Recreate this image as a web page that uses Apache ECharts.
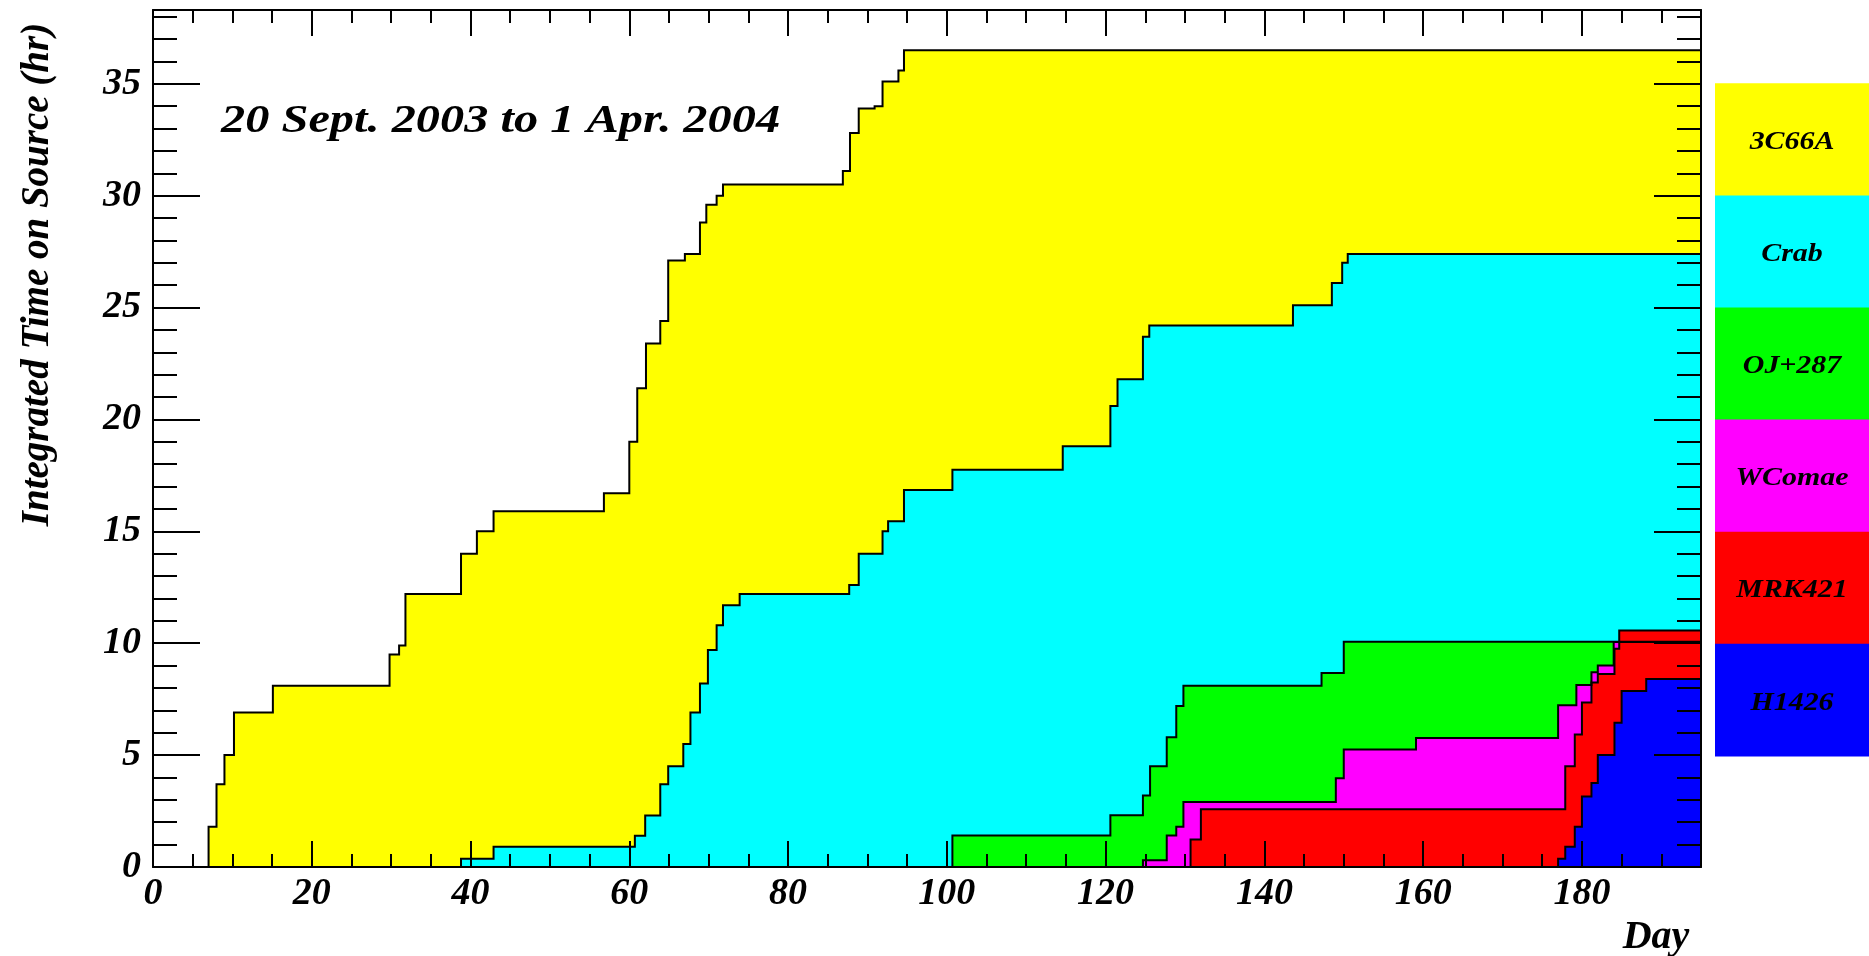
<!DOCTYPE html>
<html>
<head>
<meta charset="utf-8">
<script src="https://cdn.jsdelivr.net/npm/echarts@6/dist/echarts.min.js"></script>
<style>
html,body{margin:0;padding:0;background:#ffffff;}
#chart{width:1869px;height:956px;}
</style>
</head>
<body>
<div id="chart"></div>
<script>
// ---------------- data ----------------
const sourceNames = ['3C66A', 'Crab', 'OJ+287', 'WComae', 'MRK421', 'H1426'];
const sourceColors = ['#ffff00', '#00ffff', '#00ff00', '#ff00ff', '#ff0000', '#0000ff'];

// [day, integrated hours] — each curve changes value at the given day
const curve3C66A = [[0,0],[7,1.8],[8,3.7],[9,5.0],[10.2,6.9],[15.1,8.1],[29.8,9.5],[31,9.9],[31.8,12.2],
  [38.8,14.0],[40.8,15.0],[42.9,15.9],[56.8,16.7],[60,19.0],[61,21.4],[62.1,23.4],[63.9,24.4],[64.9,27.1],
  [67,27.4],[68.9,28.8],[69.7,29.6],[71,30.0],[71.8,30.5],[86.9,31.1],[87.8,32.8],[88.9,33.9],[90.9,34.0],
  [91.9,35.1],[93.9,35.6],[94.6,36.5],[195,36.5]];
const curveCrab = [[0,0],[38.8,0.37],[42.9,0.9],[60.7,1.4],[62,2.3],[63.9,3.7],[64.9,4.5],[66.8,5.5],[67.7,6.9],
  [68.9,8.2],[69.9,9.7],[71,10.8],[71.8,11.7],[73.9,12.2],[87.7,12.6],[88.9,14.0],[91.9,15.0],[92.6,15.45],
  [94.6,16.85],[100.7,17.75],[114.6,18.8],[120.6,20.6],[121.5,21.8],[124.7,23.7],[125.5,24.2],[143.6,25.1],
  [148.5,26.1],[149.8,27.0],[150.5,27.4],[195,27.4]];
const curveOJ287 = [[0,0],[100.7,1.41],[120.6,2.31],[124.7,3.2],[125.6,4.5],[127.7,5.8],[128.9,7.2],[129.8,8.1],
  [147.2,8.67],[150,10.07],[195,10.07]];
const curveWComae = [[0,0],[124.7,0.3],[127.7,1.41],[128.9,1.8],[129.8,2.9],[149,3.97],[150,5.25],[159.1,5.77],
  [177,7.23],[179.3,8.13],[181.2,8.7],[182,9.0],[184,10.05],[195,10.05]];
const curveMRK421 = [[0,0],[130.7,1.23],[132,2.58],[177.9,4.5],[179.1,5.92],[180,7.35],[181.2,8.25],[182,8.62],
  [184.1,9.75],[184.7,10.57],[195,10.57]];
const curveH1426 = [[0,0],[177,0.37],[177.9,0.9],[179.1,1.8],[180,3.15],[181.2,3.75],[182,5.0],[184.1,6.45],
  [185,7.87],[188.1,8.4],[195,8.4]];

const curves = [curve3C66A, curveCrab, curveOJ287, curveWComae, curveMRK421, curveH1426];

const xMin = 0, xMax = 195, xMajor = 20, xMinor = 5;
const yMin = 0, yMax = 38.3, yMajor = 5, yMinor = 1;
const titleText = '20 Sept. 2003 to 1 Apr. 2004';
const yTitle = 'Integrated Time on Source (hr)';
const xTitle = 'Day';

// ---------------- layout / style ----------------
const FONT = "'Liberation Serif', 'DejaVu Serif', serif";
const gridL = 153, gridR = 168, gridT = 10, gridB = 89;

function xAxisCfg(pos, interval, tickLen, main) {
  return {
    type: 'value', position: pos, min: xMin, max: xMax, interval: interval, z: 10,
    axisLine: { show: main, onZero: false, lineStyle: { color: '#000', width: 2 } },
    axisTick: { show: true, inside: true, length: tickLen, lineStyle: { color: '#000', width: 2 } },
    axisLabel: {
      show: main && pos === 'bottom', margin: 8, color: '#000',
      fontFamily: FONT, fontSize: 38, fontWeight: 'bold', fontStyle: 'italic',
      formatter: v => (Math.abs(v % xMajor) < 1e-6 ? String(v) : '')
    },
    splitLine: { show: false },
    name: (main && pos === 'bottom') ? xTitle : '',
    nameLocation: 'middle', nameGap: 40,
    nameTextStyle: { color: '#000', fontFamily: FONT, fontSize: 40, fontWeight: 'bold', fontStyle: 'italic',
      padding: [-10, 0, 0, 1458] }
  };
}
function yAxisCfg(pos, interval, tickLen, main) {
  return {
    type: 'value', position: pos, min: yMin, max: yMax, interval: interval, z: 10,
    axisLine: { show: main, onZero: false, lineStyle: { color: '#000', width: 2 } },
    axisTick: { show: true, inside: true, length: tickLen, lineStyle: { color: '#000', width: 2 } },
    axisLabel: {
      show: main && pos === 'left', margin: 12, color: '#000',
      fontFamily: FONT, fontSize: 38, fontWeight: 'bold', fontStyle: 'italic',
      formatter: v => (Math.abs(v % yMajor) < 1e-6 ? String(v) : '')
    },
    splitLine: { show: false },
    name: (main && pos === 'left') ? yTitle : '',
    nameLocation: 'middle', nameRotate: 90, nameGap: 96,
    nameTextStyle: { color: '#000', fontFamily: FONT, fontSize: 39, fontWeight: 'bold', fontStyle: 'italic',
      padding: [0, 0, 0, 328] }
  };
}

const series = curves.map((c, i) => ({
  type: 'line', name: sourceNames[i], data: c, step: 'end',
  xAxisIndex: 0, yAxisIndex: 0,
  symbol: 'none', showSymbol: false, animation: false, z: 2,
  lineStyle: { color: '#000', width: 2, join: 'miter' },
  itemStyle: { color: sourceColors[i] },
  areaStyle: { color: sourceColors[i], opacity: 1 }
}));

// legend boxes built from names/colors
const legTop = 83.3, legH = 112.1, legLeft = 1715, legW = 154;
const graphics = [];
sourceNames.forEach((n, i) => {
  graphics.push({ type: 'rect', left: legLeft, top: legTop + i * legH, z: 50,
    shape: { width: legW, height: legH + 0.5 }, style: { fill: sourceColors[i] } });
  graphics.push({ type: 'text', x: legLeft + legW / 2, y: legTop + i * legH + legH / 2 + 3, z: 51,
    scaleX: 1.15,
    style: { text: n, fill: '#000', font: "italic bold 26px " + FONT, align: 'center', verticalAlign: 'middle' } });
});
graphics.push({ type: 'text', x: 221, y: 121, z: 51, scaleX: 1.18,
  style: { text: titleText, fill: '#000', font: "italic bold 41px " + FONT, align: 'left', verticalAlign: 'middle' } });

const chart = echarts.init(document.getElementById('chart'), null, { renderer: 'canvas' });
chart.setOption({
  backgroundColor: '#ffffff',
  animation: false,
  grid: { left: gridL, right: gridR, top: gridT, bottom: gridB, containLabel: false, outerBoundsMode: 'none' },
  xAxis: [
    xAxisCfg('bottom', xMajor, 26, true),
    xAxisCfg('bottom', xMinor, 13, false),
    xAxisCfg('top', xMajor, 26, true),
    xAxisCfg('top', xMinor, 13, false)
  ],
  yAxis: [
    yAxisCfg('left', yMajor, 47, true),
    yAxisCfg('left', yMinor, 24, false),
    yAxisCfg('right', yMajor, 47, true),
    yAxisCfg('right', yMinor, 24, false)
  ],
  series: series,
  graphic: graphics
});
</script>
</body>
</html>
